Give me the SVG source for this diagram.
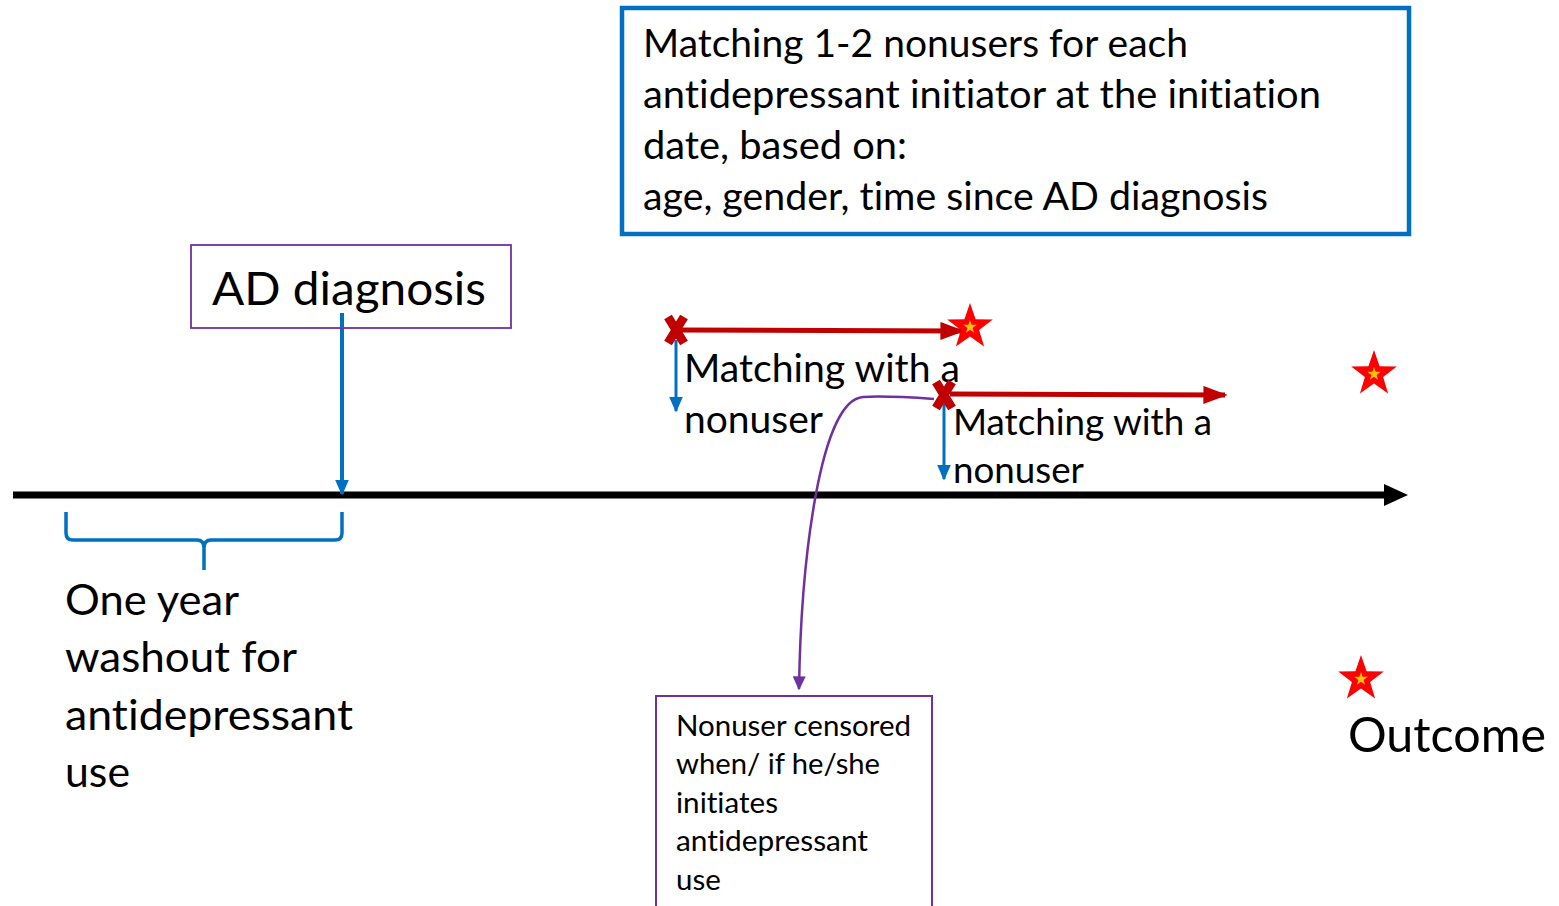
<svg xmlns="http://www.w3.org/2000/svg" width="1559" height="906" viewBox="0 0 1559 906">
<style>
text{font-family:Lato,"Liberation Sans",sans-serif;fill:#000;font-variant-ligatures:none}
.red{stroke:#C00000;stroke-width:5;fill:none}
.blue{stroke:#0070C0;fill:none}
</style>
<defs>
<marker id="ar" viewBox="0 0 10 10" refX="9" refY="5" markerWidth="24" markerHeight="18" orient="auto" markerUnits="userSpaceOnUse" preserveAspectRatio="none"><path d="M0,0 L10,5 L0,10 z" fill="#C00000"/></marker>
<marker id="abl" viewBox="0 0 10 10" refX="9" refY="5" markerWidth="16" markerHeight="14" orient="auto" markerUnits="userSpaceOnUse" preserveAspectRatio="none"><path d="M0,0 L10,5 L0,10 z" fill="#0070C0"/></marker>
<marker id="ap" viewBox="0 0 10 10" refX="9" refY="5" markerWidth="14" markerHeight="13" orient="auto" markerUnits="userSpaceOnUse" preserveAspectRatio="none"><path d="M0,0 L10,5 L0,10 z" fill="#7030A0"/></marker>
<g id="star">
<polygon points="0,-24 5.6,-7.7 22.8,-7.4 9.1,3 14.1,19.4 0,9.6 -14.1,19.4 -9.1,3 -22.8,-7.4 -5.6,-7.7" fill="#FF0000"/>
<polygon points="0,-7 1.6,-2.2 6.7,-2.2 2.6,0.9 4.1,5.7 0,2.8 -4.1,5.7 -2.6,0.9 -6.7,-2.2 -1.6,-2.2" fill="#FFC000"/>
</g>
<g id="xm">
<path d="M-8,-13 L8,13 M8,-13 L-8,13" stroke="#C00000" stroke-width="9" fill="none"/>
<rect x="-5" y="-8" width="10" height="16" fill="#C00000"/>
</g>
</defs>
<g id="connectors">
<line x1="13" y1="495" x2="1388" y2="495" stroke="#000" stroke-width="7"/>
<polygon points="1384,484 1408,495 1384,506" fill="#000"/>
<line class="blue" x1="342" y1="313" x2="342" y2="494" stroke-width="4" marker-end="url(#abl)"/>
<path class="blue" stroke-width="3.5" d="M66,512 L66,533 Q66,540 73,540 L197,540 Q204,540 204,548 L204,570 M204,548 Q204,540 211,540 L335,540 Q342,540 342,533 L342,512"/>
<line class="red" x1="680" y1="330" x2="962" y2="331" marker-end="url(#ar)"/>
<line class="blue" x1="676" y1="340" x2="676" y2="411" stroke-width="3" marker-end="url(#abl)"/>
<line class="red" x1="950" y1="394" x2="1225" y2="395" marker-end="url(#ar)"/>
<line class="blue" x1="944" y1="404" x2="944" y2="479" stroke-width="3" marker-end="url(#abl)"/>
<path d="M934,399 C905,397 880,396 863,397 C820,400 801,560 799,689" fill="none" stroke="#7030A0" stroke-width="2.5" marker-end="url(#ap)"/>
</g>
<g id="matching-box">
<rect x="622" y="8" width="787" height="226" fill="none" stroke="#0070C0" stroke-width="4.5"/>
<text x="643" y="57" font-size="39" textLength="545" lengthAdjust="spacingAndGlyphs">Matching 1-2 nonusers for each</text>
<text x="643" y="108" font-size="39" textLength="678" lengthAdjust="spacingAndGlyphs">antidepressant initiator at the initiation</text>
<text x="643" y="159" font-size="39" textLength="264" lengthAdjust="spacingAndGlyphs">date, based on:</text>
<text x="643" y="210" font-size="39" textLength="625" lengthAdjust="spacingAndGlyphs">age, gender, time since AD diagnosis</text>
</g>
<g id="ad-diagnosis">
<rect x="191" y="245" width="320" height="83" fill="#fff" stroke="#7030A0" stroke-width="1.8"/>
<text x="212" y="305" font-size="47" textLength="274" lengthAdjust="spacingAndGlyphs">AD diagnosis</text>
<line class="blue" x1="342" y1="313" x2="342" y2="328" stroke-width="4"/>
</g>
<g id="washout">
<text x="65" y="615" font-size="43" textLength="174" lengthAdjust="spacingAndGlyphs">One year</text>
<text x="65" y="672" font-size="43" textLength="232" lengthAdjust="spacingAndGlyphs">washout for</text>
<text x="65" y="730" font-size="43" textLength="288" lengthAdjust="spacingAndGlyphs">antidepressant</text>
<text x="65" y="787" font-size="43" textLength="65" lengthAdjust="spacingAndGlyphs">use</text>
</g>
<g id="match1">
<use href="#xm" x="676" y="330"/>
<use href="#star" x="970" y="327"/>
<text x="684" y="382" font-size="39" textLength="276" lengthAdjust="spacingAndGlyphs">Matching with a</text>
<text x="684" y="433" font-size="39" textLength="139" lengthAdjust="spacingAndGlyphs">nonuser</text>
</g>
<g id="match2">
<use href="#xm" x="944" y="395"/>
<text x="953" y="435" font-size="37" textLength="259" lengthAdjust="spacingAndGlyphs">Matching with a</text>
<text x="953" y="483" font-size="37" textLength="131" lengthAdjust="spacingAndGlyphs">nonuser</text>
</g>
<g id="outcome">
<use href="#star" x="1374" y="374"/>
<use href="#star" x="1361" y="679"/>
<text x="1348" y="752" font-size="48" textLength="198" lengthAdjust="spacingAndGlyphs">Outcome</text>
</g>
<g id="censored-box">
<rect x="656" y="696" width="276" height="220" fill="none" stroke="#7030A0" stroke-width="2"/>
<text x="676" y="736" font-size="29.5" textLength="235" lengthAdjust="spacingAndGlyphs">Nonuser censored</text>
<text x="676" y="774" font-size="29.5" textLength="204" lengthAdjust="spacingAndGlyphs">when/ if he/she</text>
<text x="676" y="813" font-size="29.5" textLength="102" lengthAdjust="spacingAndGlyphs">initiates</text>
<text x="676" y="851" font-size="29.5" textLength="192" lengthAdjust="spacingAndGlyphs">antidepressant</text>
<text x="676" y="890" font-size="29.5">use</text>
</g>
</svg>
